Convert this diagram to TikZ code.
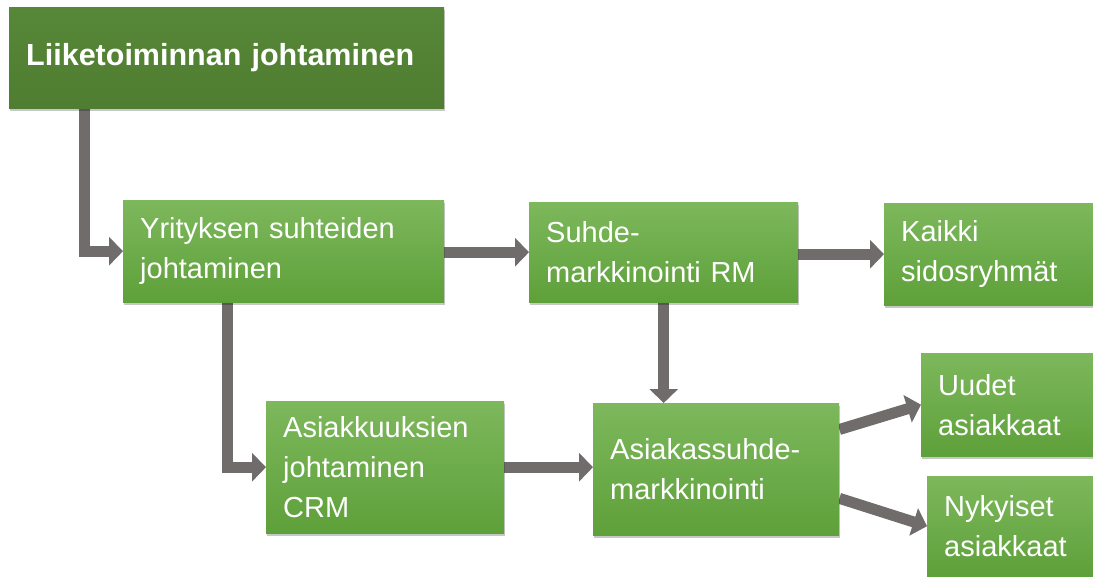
\documentclass[tikz,border=0pt]{standalone}
\usepackage{fontspec}
\setmainfont{Liberation Sans}
\usetikzlibrary{arrows.meta,shadows,calc}
\definecolor{gtop}{HTML}{7DB85C}
\definecolor{gbot}{HTML}{5EA03A}
\definecolor{dtop}{HTML}{578738}
\definecolor{dbot}{HTML}{4F7D31}
\definecolor{arrgray}{HTML}{716C6C}
\pgfdeclarelayer{bg}
\pgfsetlayers{bg,main}
\begin{document}
\begin{tikzpicture}[x=1pt,y=-1pt,
  box/.style={draw=none, top color=gtop, bottom color=gbot, text=white,
    anchor=north west, align=left, inner xsep=17pt, inner ysep=0pt,
    font=\fontsize{29}{40}\selectfont,
    drop shadow={shadow xshift=0.5pt, shadow yshift=-3pt, opacity=0.22, fill=black}},
  topbox/.style={box, top color=dtop, bottom color=dbot,
    font=\fontsize{30.5}{40}\selectfont\bfseries},
  conn/.style={draw=arrgray, line width=11pt, line join=miter,
    -{Triangle[length=14pt,width=28pt]}}]
\useasboundingbox (0,0) rectangle (1093,576);
\clip (0,0) rectangle (1093,576);

\node[topbox, text width=401pt, minimum height=101pt] (b1) at (9,7) {Liiketoiminnan johtaminen};
\node[box, text width=287pt, minimum height=102pt] (b2) at (123,200) {Yrityksen suhteiden\\johtaminen};
\node[box, text width=235pt, minimum height=100pt] (b3) at (529,202) {Suhde-\\markkinointi RM};
\node[box, text width=226pt, minimum height=102pt] (b4) at (884,203) {Kaikki\\sidosryhmät};
\node[box, text width=204pt, minimum height=132pt] (b5) at (266,401) {Asiakkuuksien\\johtaminen\\CRM};
\node[box, text width=212pt, minimum height=132pt] (b6) at (593,403) {Asiakassuhde-\\markkinointi};
\node[box, text width=186pt, minimum height=103pt] (b7) at (921,353) {Uudet\\asiakkaat};
\node[box, text width=186pt, minimum height=100pt] (b8) at (927,476) {Nykyiset\\asiakkaat};

\begin{pgfonlayer}{bg}
\fill[white] (0,0) rectangle (1093,576);
\draw[conn] ($(b1.south west)+(75,0)$) |- (b2.west);
\draw[conn] ($(b2.south west)+(104,0)$) |- (b5.west);
\draw[conn] (b3.west -| b2.east) -- (b3.west);
\draw[conn] (b4.west -| b3.east) -- (b4.west);
\draw[conn] (b3.south) -- (b3.south |- b6.north);
\draw[conn] (b5.east) -- (b5.east -| b6.west);
\draw[conn] ($(b6.north east)!0.2!(b6.south east)$) -- (b7.west);
\draw[conn] ($(b6.north east)!0.72!(b6.south east)$) -- (b8.west);
\end{pgfonlayer}
\end{tikzpicture}
\end{document}
